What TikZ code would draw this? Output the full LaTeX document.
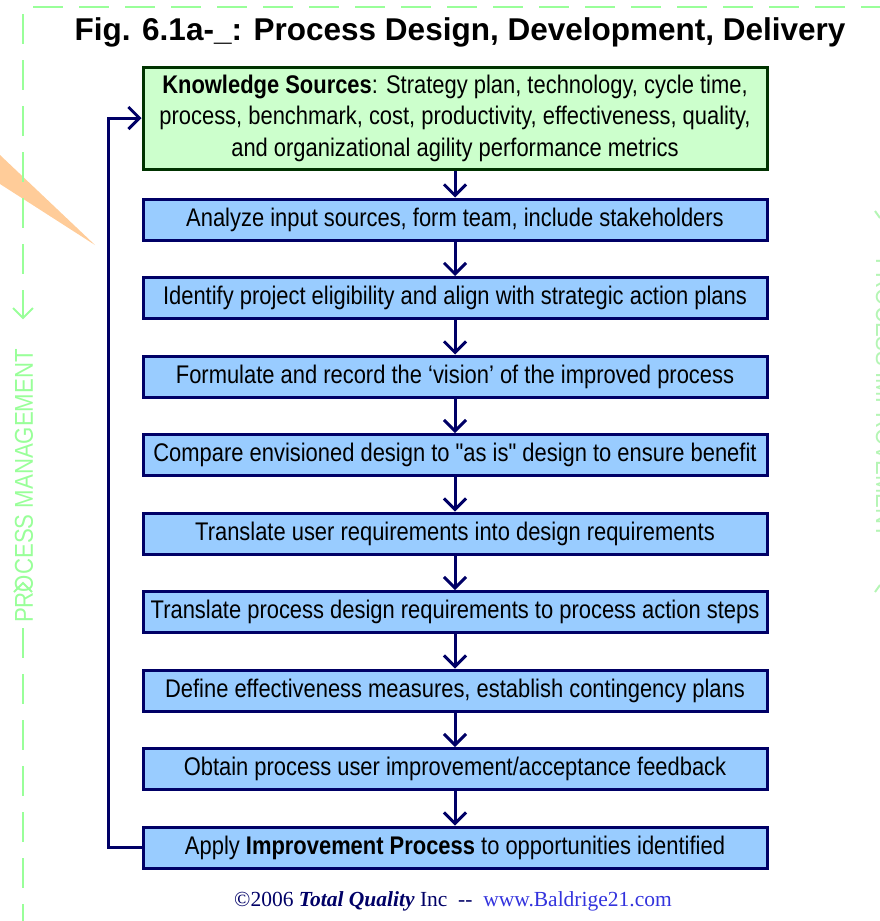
\documentclass[tikz,border=0pt]{standalone}
\usepackage{fontspec}
\setmainfont{Liberation Sans}
\newfontfamily\narrow[FakeStretch=0.86]{Liberation Sans}
\newfontfamily\timesf{Liberation Serif}
\usetikzlibrary{arrows.meta}
\definecolor{navy}{HTML}{000066}
\definecolor{boxblue}{HTML}{99CCFF}
\definecolor{kgreen}{HTML}{CCFFCC}
\definecolor{kborder}{HTML}{003300}
\definecolor{deco}{HTML}{99FF99}
\definecolor{decofaint}{HTML}{B5F5B5}
\definecolor{wedge}{HTML}{FFCC99}
\definecolor{linkblue}{HTML}{3333DD}
\begin{document}
\begin{tikzpicture}[x=1pt,y=-1pt,
  stepbox/.style={draw=navy, fill=boxblue, line width=3pt, minimum width=624pt,
    minimum height=41pt, inner sep=0pt, font=\narrow\fontsize{25.5}{28}\selectfont},
  kbox/.style={draw=kborder, fill=kgreen, line width=3pt, minimum width=624pt,
    minimum height=102pt, inner sep=0pt, align=center,
    font=\narrow\fontsize{25.5}{31.5}\selectfont},
  flow/.style={draw=navy, line width=3pt, -{Straight Barb[length=11pt,width=22pt]}},
  decoline/.style={draw=deco, line width=2.5pt, dash pattern=on 30pt off 16pt},
  decotext/.style={text=deco, font=\narrow\fontsize{25.8}{25.8}\selectfont, inner sep=0pt},
]
\useasboundingbox (0,0) rectangle (880,921);
% background decorations
\fill[wedge] (0,155) -- (95,245) -- (0,184) -- cycle;
\draw[decoline] (33,7) -- (880,7);
\draw[decoline] (23,14) -- (23,300);
\draw[decoline] (23,628) -- (23,921);
\draw[deco, line width=2pt] (23,300) -- (23,318);
\draw[deco, line width=2pt] (13,308) -- (23,318) -- (33,308);
\draw[deco, line width=2pt] (14,592) -- (23,583) -- (32,592);
\node[decotext, rotate=90] (pm) at (24,486) {PROCESS MANAGEMENT};
\node[decotext, text=decofaint, rotate=-90] (pi) at (885,398) {PROCESS IMPROVEMENT};
\draw[decofaint, line width=2pt] (875,211) -- (880,218);
\draw[decofaint, line width=2pt] (880,585) -- (875,592);
% title
\node[font=\bfseries\fontsize{31.5}{31.5}\selectfont, inner sep=0pt] (title) at (460,32)
  {Fig. 6.1a-\_: Process Design, Development, Delivery};
% knowledge box
\node[kbox] (k) at (455,118) {\textbf{Knowledge Sources}: Strategy plan, technology, cycle time,\\
  process, benchmark, cost, productivity, effectiveness, quality,\\
  and organizational agility performance metrics};
% steps
\node[stepbox] (s1) at (455,219.5) {Analyze input sources, form team, include stakeholders};
\node[stepbox] (s2) at (455,298) {Identify project eligibility and align with strategic action plans};
\node[stepbox] (s3) at (455,376.5) {Formulate and record the ‘vision’ of the improved process};
\node[stepbox] (s4) at (455,455) {Compare envisioned design to "as is" design to ensure benefit};
\node[stepbox] (s5) at (455,533.5) {Translate user requirements into design requirements};
\node[stepbox] (s6) at (455,612) {Translate process design requirements to process action steps};
\node[stepbox] (s7) at (455,690.5) {Define effectiveness measures, establish contingency plans};
\node[stepbox] (s8) at (455,769) {Obtain process user improvement/acceptance feedback};
\node[stepbox] (s9) at (455,847.5) {Apply \textbf{Improvement Process} to opportunities identified};
% arrows
\draw[flow] (k) -- (s1);
\draw[flow] (s1) -- (s2);
\draw[flow] (s2) -- (s3);
\draw[flow] (s3) -- (s4);
\draw[flow] (s4) -- (s5);
\draw[flow] (s5) -- (s6);
\draw[flow] (s6) -- (s7);
\draw[flow] (s7) -- (s8);
\draw[flow] (s8) -- (s9);
\coordinate (lp) at (108,847.5);
\draw[flow] (s9.west) -- (lp) |- (k.west);
% footer
\node[font=\timesf\fontsize{21.5}{21.5}\selectfont, text=navy, inner sep=0pt] (foot) at (453,901)
  {\copyright2006 \textbf{\textit{Total Quality}} Inc\ \ --\ \ \textcolor{linkblue}{www.Baldrige21.com}};
\end{tikzpicture}
\end{document}
